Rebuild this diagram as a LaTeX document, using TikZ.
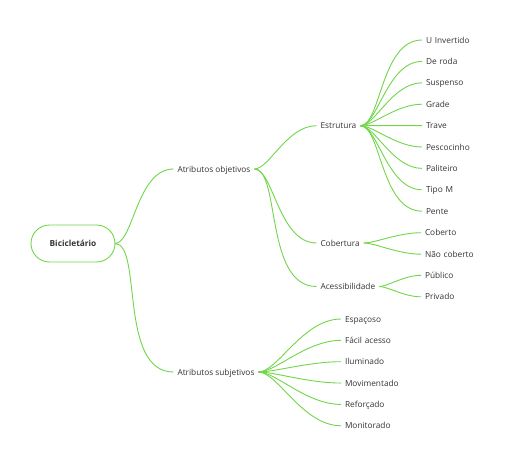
\documentclass[tikz,border=0pt]{standalone}
\usepackage{fontspec}
\setmainfont{Open Sans}
\definecolor{mmgreen}{RGB}{112,214,72}
\definecolor{mmtext}{RGB}{51,51,51}
\tikzset{every node/.style={font=\fontsize{8.3}{10}\selectfont, text=mmtext, inner xsep=4pt, inner ysep=0pt, text height=6pt, text depth=0pt, outer sep=0pt}}
\tikzset{every edge/.style={draw = mmgreen, line width=0.9pt, out=0, in=180, out looseness=0.5, in looseness=1}}
\tikzset{leaf/.style={text width=70pt, align=left}}

\begin{document}
\begin{tikzpicture}[x=1pt, y=-1pt, node distance = 21.4pt]
  \useasboundingbox (0,0) rectangle (512,467);

  \node (root) at (73,243.5) [draw = mmgreen, line width=0.9pt, rounded corners=18.5pt, minimum width=84pt, minimum height=37pt] {\bfseries Bicicletário};

  \node (obj) at (173.5,169) [anchor=west] {Atributos objetivos};
  \node (subj) at (173.5,372) [anchor=west] {Atributos subjetivos};

  \node (estr) at (316.5,125.7) [anchor=west] {Estrutura};
  \node (cob) at (316.5,243) [anchor=west] {Cobertura};
  \node (acess) at (316.5,286.5) [anchor=west] {Acessibilidade};

  \node (uinv) at (422,40) [leaf, anchor=west] {U Invertido};
  \node (deroda) [leaf, below of = uinv] {De roda};
  \node (susp) [leaf, below of = deroda] {Suspenso};
  \node (grade) [leaf, below of = susp] {Grade};
  \node (trave) [leaf, below of = grade] {Trave};
  \node (pesc) [leaf, below of = trave] {Pescocinho};
  \node (palit) [leaf, below of = pesc] {Paliteiro};
  \node (tipom) [leaf, below of = palit] {Tipo M};
  \node (pente) [leaf, below of = tipom] {Pente};

  \node (coberto) at (421,232.7) [leaf, anchor=west] {Coberto};
  \node (naocob) [leaf, node distance = 21.5pt, below of = coberto] {Não coberto};

  \node (publico) at (421,275.3) [leaf, anchor=west] {Público};
  \node (privado) [leaf, node distance = 21.5pt, below of = publico] {Privado};

  \node (espac) at (341,319) [leaf, anchor=west] {Espaçoso};
  \node (facil) [leaf, node distance = 21.35pt, below of = espac] {Fácil acesso};
  \node (ilum) [leaf, node distance = 21.35pt, below of = facil] {Iluminado};
  \node (movim) [leaf, node distance = 21.35pt, below of = ilum] {Movimentado};
  \node (refor) [leaf, node distance = 21.35pt, below of = movim] {Reforçado};
  \node (monit) [leaf, node distance = 21.35pt, below of = refor] {Monitorado};

  \path (root.east) edge (obj.west);
  \path (root.east) edge (subj.west);

  \path (obj.east) edge (estr.west);
  \path (obj.east) edge (cob.west);
  \path (obj.east) edge (acess.west);

  \path (estr.east) edge (uinv.west);
  \path (estr.east) edge (deroda.west);
  \path (estr.east) edge (susp.west);
  \path (estr.east) edge (grade.west);
  \path (estr.east) edge (trave.west);
  \path (estr.east) edge (pesc.west);
  \path (estr.east) edge (palit.west);
  \path (estr.east) edge (tipom.west);
  \path (estr.east) edge (pente.west);

  \path (cob.east) edge (coberto.west);
  \path (cob.east) edge (naocob.west);

  \path (acess.east) edge (publico.west);
  \path (acess.east) edge (privado.west);

  \path (subj.east) edge (espac.west);
  \path (subj.east) edge (facil.west);
  \path (subj.east) edge (ilum.west);
  \path (subj.east) edge (movim.west);
  \path (subj.east) edge (refor.west);
  \path (subj.east) edge (monit.west);
\end{tikzpicture}
\end{document}
